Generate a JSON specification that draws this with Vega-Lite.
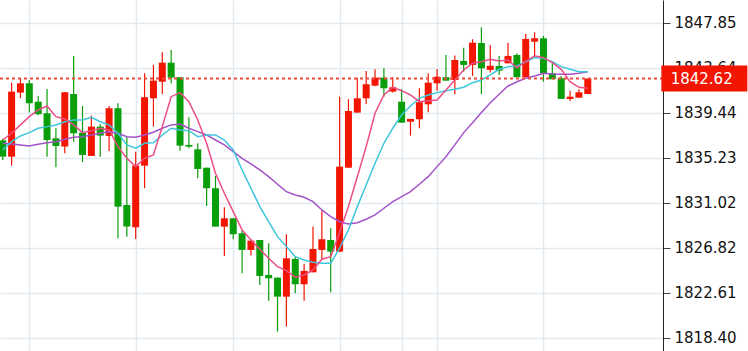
{
  "$schema": "https://vega.github.io/schema/vega-lite/v6.json",
  "width": 663,
  "height": 351,
  "autosize": {"type": "none"},
  "padding": {"left": 0, "top": 0, "right": 85, "bottom": 0},
  "background": "white",
  "config": {"view": {"stroke": null}, "font": "DejaVu Sans"},
  "datasets": {
    "k": [
      {"i":0,"o":1836.85,"h":1837.0,"l":1835.0,"c":1835.32,"m1":1836.88,"m2":1835.95,"m3":1836.57},
      {"i":1,"o":1835.32,"h":1842.24,"l":1834.48,"c":1841.40,"m1":1837.51,"m2":1836.72,"m3":1836.51},
      {"i":2,"o":1841.31,"h":1842.65,"l":1840.78,"c":1842.18,"m1":1838.29,"m2":1837.26,"m3":1836.42},
      {"i":3,"o":1842.18,"h":1842.49,"l":1839.44,"c":1840.31,"m1":1839.06,"m2":1837.57,"m3":1836.32},
      {"i":4,"o":1840.46,"h":1841.00,"l":1839.20,"c":1839.29,"m1":1839.69,"m2":1837.98,"m3":1836.48},
      {"i":5,"o":1839.38,"h":1841.65,"l":1835.32,"c":1836.88,"m1":1840.06,"m2":1838.13,"m3":1836.63},
      {"i":6,"o":1837.04,"h":1837.98,"l":1834.33,"c":1836.32,"m1":1839.06,"m2":1838.29,"m3":1836.72},
      {"i":7,"o":1836.26,"h":1841.37,"l":1835.64,"c":1841.34,"m1":1838.85,"m2":1838.59,"m3":1836.95},
      {"i":8,"o":1841.18,"h":1844.74,"l":1836.72,"c":1837.51,"m1":1838.29,"m2":1838.75,"m3":1837.14},
      {"i":9,"o":1837.57,"h":1840.06,"l":1834.80,"c":1835.48,"m1":1837.57,"m2":1838.75,"m3":1837.19},
      {"i":10,"o":1835.39,"h":1839.16,"l":1835.39,"c":1838.13,"m1":1837.75,"m2":1839.01,"m3":1837.35},
      {"i":11,"o":1838.13,"h":1838.38,"l":1835.32,"c":1837.29,"m1":1837.98,"m2":1838.59,"m3":1837.51},
      {"i":12,"o":1837.26,"h":1840.06,"l":1835.86,"c":1839.85,"m1":1837.82,"m2":1838.29,"m3":1837.66},
      {"i":13,"o":1839.85,"h":1840.31,"l":1827.69,"c":1830.65,"m1":1836.26,"m2":1837.51,"m3":1837.51},
      {"i":14,"o":1830.81,"h":1837.19,"l":1827.84,"c":1828.78,"m1":1835.17,"m2":1836.42,"m3":1837.19},
      {"i":15,"o":1828.72,"h":1835.79,"l":1827.63,"c":1834.48,"m1":1834.39,"m2":1836.11,"m3":1837.14},
      {"i":16,"o":1834.48,"h":1843.12,"l":1832.37,"c":1840.88,"m1":1835.17,"m2":1836.57,"m3":1837.35},
      {"i":17,"o":1840.78,"h":1843.90,"l":1838.13,"c":1842.43,"m1":1835.48,"m2":1836.63,"m3":1837.60},
      {"i":18,"o":1842.33,"h":1845.08,"l":1841.18,"c":1844.11,"m1":1838.13,"m2":1837.35,"m3":1837.98},
      {"i":19,"o":1844.11,"h":1845.30,"l":1842.18,"c":1842.71,"m1":1840.93,"m2":1837.98,"m3":1838.29},
      {"i":20,"o":1842.75,"h":1842.75,"l":1835.88,"c":1836.35,"m1":1841.31,"m2":1837.82,"m3":1838.38},
      {"i":21,"o":1836.42,"h":1839.01,"l":1836.11,"c":1836.26,"m1":1840.46,"m2":1837.75,"m3":1837.98},
      {"i":22,"o":1836.01,"h":1836.58,"l":1833.30,"c":1834.17,"m1":1838.75,"m2":1837.19,"m3":1837.66},
      {"i":23,"o":1834.29,"h":1834.29,"l":1830.71,"c":1832.37,"m1":1836.57,"m2":1837.35,"m3":1837.35},
      {"i":24,"o":1832.37,"h":1833.52,"l":1828.78,"c":1828.78,"m1":1833.77,"m2":1837.35,"m3":1836.88},
      {"i":25,"o":1828.78,"h":1830.59,"l":1826.04,"c":1829.56,"m1":1831.90,"m2":1836.88,"m3":1836.42},
      {"i":26,"o":1829.56,"h":1829.56,"l":1827.60,"c":1828.07,"m1":1830.18,"m2":1835.95,"m3":1835.79},
      {"i":27,"o":1828.16,"h":1828.47,"l":1824.42,"c":1826.60,"m1":1828.47,"m2":1834.08,"m3":1835.17},
      {"i":28,"o":1826.60,"h":1827.60,"l":1826.07,"c":1827.47,"m1":1827.53,"m2":1832.37,"m3":1834.64},
      {"i":29,"o":1827.53,"h":1827.53,"l":1823.33,"c":1824.17,"m1":1826.66,"m2":1830.65,"m3":1834.08},
      {"i":30,"o":1824.26,"h":1827.23,"l":1821.86,"c":1823.95,"m1":1825.82,"m2":1829.24,"m3":1833.45},
      {"i":31,"o":1824.01,"h":1824.01,"l":1818.96,"c":1822.23,"m1":1825.04,"m2":1827.84,"m3":1832.74},
      {"i":32,"o":1822.23,"h":1828.07,"l":1819.43,"c":1825.82,"m1":1824.66,"m2":1826.91,"m3":1832.05},
      {"i":33,"o":1825.76,"h":1825.94,"l":1822.55,"c":1823.39,"m1":1824.05,"m2":1825.97,"m3":1831.74},
      {"i":34,"o":1823.39,"h":1825.29,"l":1821.86,"c":1824.64,"m1":1824.26,"m2":1825.66,"m3":1831.53},
      {"i":35,"o":1824.51,"h":1828.78,"l":1824.51,"c":1826.69,"m1":1824.73,"m2":1825.45,"m3":1831.11},
      {"i":36,"o":1826.60,"h":1830.27,"l":1825.66,"c":1827.60,"m1":1825.73,"m2":1825.36,"m3":1830.34},
      {"i":37,"o":1827.53,"h":1828.63,"l":1822.64,"c":1826.44,"m1":1825.97,"m2":1825.36,"m3":1829.71},
      {"i":38,"o":1826.44,"h":1840.93,"l":1826.44,"c":1834.39,"m1":1828.22,"m2":1826.76,"m3":1829.24},
      {"i":39,"o":1834.29,"h":1840.69,"l":1834.29,"c":1839.59,"m1":1830.65,"m2":1828.47,"m3":1829.03},
      {"i":40,"o":1839.44,"h":1842.71,"l":1839.44,"c":1840.78,"m1":1833.45,"m2":1830.65,"m3":1829.15},
      {"i":41,"o":1840.78,"h":1843.33,"l":1840.25,"c":1842.09,"m1":1836.26,"m2":1832.68,"m3":1829.47},
      {"i":42,"o":1841.96,"h":1843.49,"l":1841.90,"c":1842.71,"m1":1839.38,"m2":1834.70,"m3":1829.87},
      {"i":43,"o":1842.71,"h":1843.59,"l":1840.93,"c":1841.72,"m1":1841.09,"m2":1836.57,"m3":1830.50},
      {"i":44,"o":1841.40,"h":1842.75,"l":1841.31,"c":1841.81,"m1":1841.81,"m2":1837.98,"m3":1831.11},
      {"i":45,"o":1840.46,"h":1841.62,"l":1838.50,"c":1838.50,"m1":1841.49,"m2":1839.22,"m3":1831.58},
      {"i":46,"o":1838.59,"h":1838.85,"l":1837.29,"c":1838.85,"m1":1841.09,"m2":1840.06,"m3":1832.05},
      {"i":47,"o":1838.82,"h":1841.72,"l":1837.98,"c":1840.41,"m1":1840.46,"m2":1840.78,"m3":1832.74},
      {"i":48,"o":1840.22,"h":1843.12,"l":1839.47,"c":1842.24,"m1":1840.56,"m2":1841.09,"m3":1833.45},
      {"i":49,"o":1842.18,"h":1843.52,"l":1841.49,"c":1842.80,"m1":1840.62,"m2":1841.31,"m3":1834.39},
      {"i":50,"o":1842.75,"h":1844.83,"l":1842.43,"c":1842.43,"m1":1841.56,"m2":1841.49,"m3":1835.32},
      {"i":51,"o":1842.49,"h":1844.77,"l":1841.16,"c":1844.36,"m1":1842.49,"m2":1841.62,"m3":1836.42},
      {"i":52,"o":1844.27,"h":1845.51,"l":1843.27,"c":1843.90,"m1":1843.43,"m2":1841.81,"m3":1837.57},
      {"i":53,"o":1843.90,"h":1846.30,"l":1842.87,"c":1845.98,"m1":1844.05,"m2":1842.24,"m3":1838.50},
      {"i":54,"o":1845.95,"h":1847.42,"l":1841.17,"c":1843.59,"m1":1844.20,"m2":1842.49,"m3":1839.44},
      {"i":55,"o":1843.43,"h":1845.77,"l":1843.20,"c":1843.82,"m1":1844.43,"m2":1842.96,"m3":1840.37},
      {"i":56,"o":1843.80,"h":1844.74,"l":1842.96,"c":1843.36,"m1":1844.27,"m2":1843.49,"m3":1841.16},
      {"i":57,"o":1844.05,"h":1845.98,"l":1844.05,"c":1844.74,"m1":1844.36,"m2":1843.74,"m3":1841.93},
      {"i":58,"o":1844.83,"h":1844.99,"l":1842.75,"c":1842.75,"m1":1843.64,"m2":1843.80,"m3":1842.33},
      {"i":59,"o":1842.75,"h":1846.79,"l":1842.75,"c":1846.33,"m1":1844.20,"m2":1844.20,"m3":1842.65},
      {"i":60,"o":1846.07,"h":1846.95,"l":1844.67,"c":1846.39,"m1":1844.76,"m2":1844.58,"m3":1842.87},
      {"i":61,"o":1846.39,"h":1846.61,"l":1842.33,"c":1843.12,"m1":1844.58,"m2":1844.52,"m3":1843.12},
      {"i":62,"o":1843.12,"h":1844.11,"l":1842.56,"c":1842.56,"m1":1844.11,"m2":1844.20,"m3":1843.05},
      {"i":63,"o":1842.65,"h":1842.87,"l":1840.72,"c":1840.72,"m1":1843.49,"m2":1843.74,"m3":1843.03},
      {"i":64,"o":1840.72,"h":1841.49,"l":1840.53,"c":1840.93,"m1":1842.33,"m2":1843.49,"m3":1843.03},
      {"i":65,"o":1840.84,"h":1841.62,"l":1840.84,"c":1841.34,"m1":1841.81,"m2":1843.27,"m3":1843.12},
      {"i":66,"o":1841.18,"h":1842.62,"l":1841.18,"c":1842.62,"m1":1841.72,"m2":1843.27,"m3":1843.27}
    ],
    "last": [{"price": 1842.62}]
  },
  "layer": [
    {
      "data": {"name": "k"},
      "mark": {"type": "rule", "strokeWidth": 1.2, "clip": true},
      "encoding": {
        "x": {"field": "i", "type": "quantitative",
              "scale": {"domain": [0.256, 73.92], "nice": false, "zero": false},
              "axis": {"orient": "bottom", "values": [3, 15, 26, 38, 45, 49, 61], "grid": true, "gridColor": "#e2eaf1", "gridWidth": 1.5, "labels": false, "ticks": false, "domain": false, "title": null}},
        "y": {"field": "l", "type": "quantitative",
              "scale": {"domain": [1817.15, 1849.97], "nice": false, "zero": false},
              "axis": {"orient": "right", "values": [1818.40, 1822.61, 1826.82, 1831.02, 1835.23, 1839.44, 1843.64, 1847.85], "format": ".2f", "title": null, "grid": true, "gridColor": "#e2eaf1", "gridWidth": 1.5, "domainColor": "#222222", "domainWidth": 1, "tickColor": "#444444", "tickSize": 7, "labelPadding": 4, "labelFont": "DejaVu Sans", "labelFontSize": 15, "labelColor": "#111111", "labelOverlap": false}},
        "y2": {"field": "h"},
        "color": {"condition": {"test": "datum.c >= datum.o", "value": "#f21500"}, "value": "#0a9e0a"}
      }
    },
    {
      "data": {"name": "k"},
      "mark": {"type": "bar", "size": 7, "clip": true},
      "encoding": {
        "x": {"field": "i", "type": "quantitative"},
        "y": {"field": "o", "type": "quantitative"},
        "y2": {"field": "c"},
        "color": {"condition": {"test": "datum.c >= datum.o", "value": "#f21500"}, "value": "#0a9e0a"}
      }
    },
    {
      "data": {"name": "k"},
      "mark": {"type": "line", "strokeWidth": 1.5, "color": "#a452c8", "clip": true},
      "encoding": {"x": {"field": "i", "type": "quantitative"}, "y": {"field": "m3", "type": "quantitative"}}
    },
    {
      "data": {"name": "k"},
      "mark": {"type": "line", "strokeWidth": 1.5, "color": "#3dc6dc", "clip": true},
      "encoding": {"x": {"field": "i", "type": "quantitative"}, "y": {"field": "m2", "type": "quantitative"}}
    },
    {
      "data": {"name": "k"},
      "mark": {"type": "line", "strokeWidth": 1.5, "color": "#ec4d86", "clip": true},
      "encoding": {"x": {"field": "i", "type": "quantitative"}, "y": {"field": "m1", "type": "quantitative"}}
    },
    {
      "data": {"name": "last"},
      "mark": {"type": "rule", "strokeDash": [3, 3], "strokeWidth": 2, "color": "#f04a3c"},
      "encoding": {"y": {"field": "price", "type": "quantitative"}}
    },
    {
      "data": {"name": "last"},
      "mark": {"type": "rect", "color": "#f21500", "clip": false},
      "encoding": {"x": {"datum": 74.3}, "x2": {"datum": 84}, "y": {"datum": 1843.85}, "y2": {"datum": 1841.42}}
    },
    {
      "data": {"name": "last"},
      "mark": {"type": "text", "align": "left", "baseline": "middle", "color": "white", "fontSize": 15, "font": "DejaVu Sans"},
      "encoding": {"x": {"datum": 75.35}, "y": {"field": "price", "type": "quantitative"}, "text": {"field": "price", "type": "quantitative", "format": ".2f"}}
    }
  ]
}
